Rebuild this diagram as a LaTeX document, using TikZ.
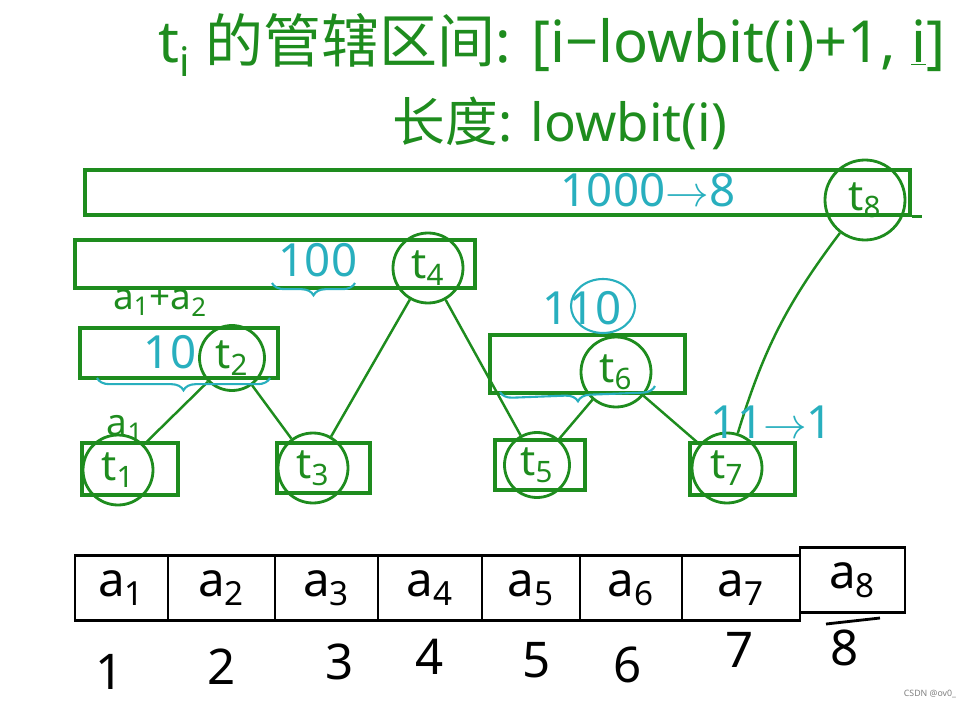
\documentclass[tikz,border=0pt]{standalone}
\usepackage{fontspec}
\setmainfont{Noto Sans}
\newfontfamily\cjk{Noto Sans CJK SC}
\usepackage{tikz}
\usetikzlibrary{positioning,decorations.pathreplacing}
\definecolor{penGreen}{RGB}{30,140,30}
\definecolor{penCyan}{RGB}{40,175,190}

\begin{document}
\begin{tikzpicture}[x=0.2mm, y=-0.2mm,
    tnode/.style={circle, draw=penGreen, line width=1.6pt, minimum size=14mm, inner sep=0pt, text=penGreen, font=\fontsize{24}{26}\selectfont},
    rangebox/.style={rectangle, draw=penGreen, line width=1.8pt, inner sep=0pt},
    cell/.style={rectangle, draw=black, line width=1.6pt, minimum height=13mm, inner sep=0pt, font=\fontsize{27}{29}\selectfont},
    idx/.style={font=\fontsize{28}{30}\selectfont},
    note/.style={text=penCyan, font=\fontsize{26}{28}\selectfont},
    greennote/.style={text=penGreen, font=\fontsize{21}{23}\selectfont},
    link/.style={draw=penGreen, line width=1.4pt},
    brace/.style={draw=penCyan, line width=1.2pt, decorate, decoration={brace, mirror, amplitude=7pt}}
]
\useasboundingbox (0,0) rectangle (975,708);

% Title
\node[text=penGreen, font=\fontsize{33}{38}\selectfont] (title) at (552,45) {t\textsubscript{i} {\cjk 的管辖区间}: [i−lowbit(i)+1, \underline{i}]};
\node[text=penGreen, font=\fontsize{30}{34}\selectfont] (len) at (560,123) {{\cjk 长度}: lowbit(i)};

% Range boxes
\node[rangebox, minimum width=165mm, minimum height=9mm] (r8) at (497.5,192.5) {};
\node[rangebox, minimum width=80mm, minimum height=9.6mm] (r4) at (275,264) {};
\node[rangebox, minimum width=39.6mm, minimum height=10mm] (r2) at (179,353) {};
\node[rangebox, minimum width=39mm, minimum height=11.6mm] (r6) at (587.5,364) {};
\node[rangebox, minimum width=19.2mm, minimum height=10.4mm] (r1) at (130,469) {};
\node[rangebox, minimum width=18.6mm, minimum height=10mm] (r3) at (323.5,468) {};
\node[rangebox, minimum width=18mm, minimum height=10mm] (r5) at (540,465) {};
\node[rangebox, minimum width=21mm, minimum height=10.4mm] (r7) at (742.5,469) {};
\draw[penGreen, line width=1.8pt] (r8.south east) -- ++(10,0);

% Tree nodes
\node[tnode, minimum size=16mm] (t8) at (865,200) {t\textsubscript{8}};
\node[tnode] (t4) at (428,268) {t\textsubscript{4}};
\node[tnode, minimum size=13mm] (t2) at (232,358) {t\textsubscript{2}};
\node[tnode] (t6) at (616,372) {t\textsubscript{6}};
\node[tnode] (t1) at (118,470) {t\textsubscript{1}};
\node[tnode] (t3) at (313,468) {t\textsubscript{3}};
\node[tnode, minimum size=13mm] (t5) at (537,465) {t\textsubscript{5}};
\node[tnode] (t7) at (727,468) {t\textsubscript{7}};

% Links
\draw[link] (t1) -- (t2);
\draw[link] (t2) -- (t3);
\draw[link] (t3) -- (t4);
\draw[link] (t4) -- (t5);
\draw[link] (t5) -- (t6);
\draw[link] (t6) -- (t7);
\draw[link] (t7) to[bend left=10] (t8);

% Binary notes
\node[note] (b8) at (648,190) {1000$\rightarrow$8};
\node[note] (b4) at (318,260) {100};
\node[note] (b2) at (170,352) {10};
\node[note] (b6) at (582,308) {110};
\node[note] (b7) at (772,422) {11$\rightarrow$1};
\draw[penCyan, line width=1.2pt] (603,306) ellipse [x radius=32, y radius=27];

% Braces
\draw[brace] (272,283) -- (355,283);
\draw[brace] (97,378) -- (270,378);
\draw[brace] (500,392) -- (655,386);

% Sums
\node[greennote] (s2) at (160,302) {a\textsubscript{1}+a\textsubscript{2}};
\node[greennote] (s1) at (125,428) {a\textsubscript{1}};

% Array
\node[cell, minimum width=18.6mm] (c1) at (121.5,588) {a\textsubscript{1}};
\node[cell, minimum width=21.4mm] (c2) at (221.5,588) {a\textsubscript{2}};
\node[cell, minimum width=20.6mm] (c3) at (326.5,588) {a\textsubscript{3}};
\node[cell, minimum width=20.8mm] (c4) at (430,588) {a\textsubscript{4}};
\node[cell, minimum width=19.6mm] (c5) at (531,588) {a\textsubscript{5}};
\node[cell, minimum width=20.4mm] (c6) at (631,588) {a\textsubscript{6}};
\node[cell, minimum width=23.6mm] (c7) at (741,588) {a\textsubscript{7}};
\node[cell, minimum width=21mm] (c8) at (852.5,580) {a\textsubscript{8}};
\draw[black, line width=1.6pt] (826,624) -- (880,618);

% Indices
\node[idx] (n1) at (110,672) {1};
\node[idx] (n2) at (222,667) {2};
\node[idx] (n3) at (340,662) {3};
\node[idx] (n4) at (430,657) {4};
\node[idx] (n5) at (537,660) {5};
\node[idx] (n6) at (628,665) {6};
\node[idx] (n7) at (740,650) {7};
\node[idx] (n8) at (845,648) {8};

% Watermark
\node[text=gray, font=\tiny] (wm) at (930,694) {CSDN @ov0\_};

\end{tikzpicture}
\end{document}
